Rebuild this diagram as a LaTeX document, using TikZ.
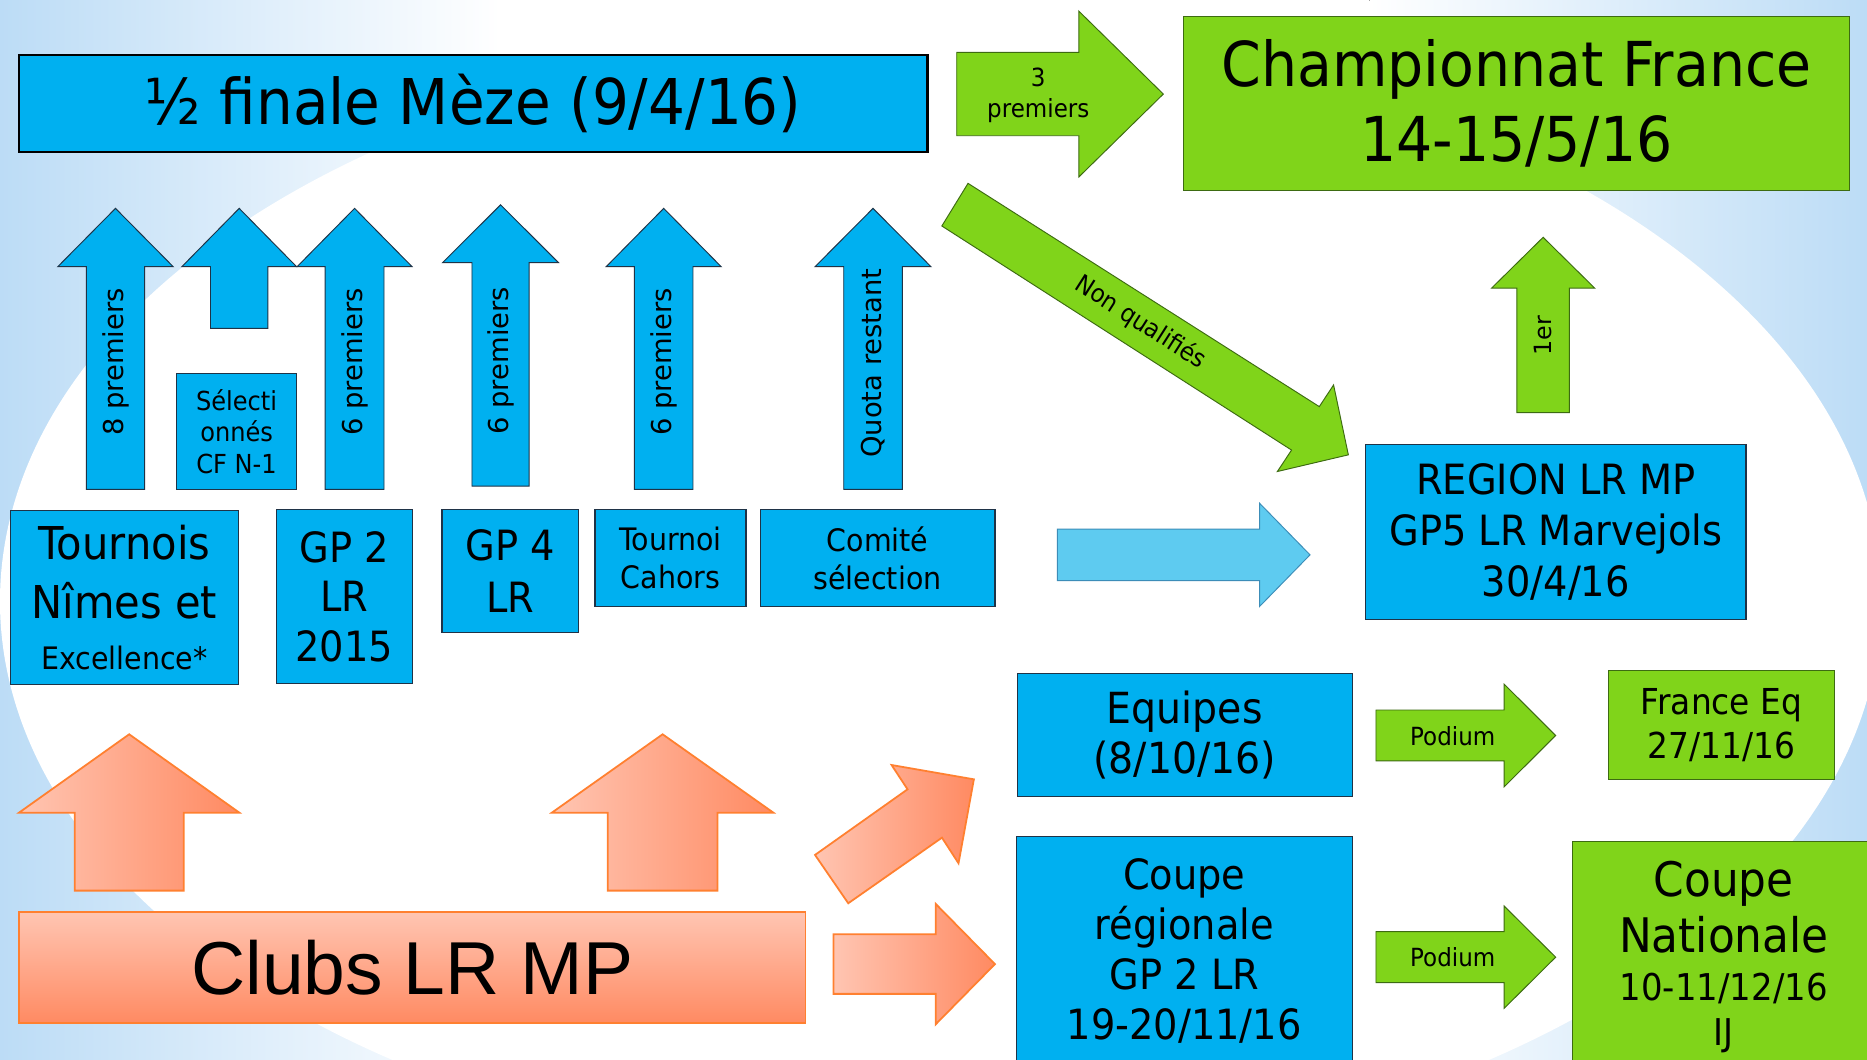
\documentclass[tikz,border=0pt]{standalone}
\usepackage{fontspec}
\setmainfont{DejaVu Sans}
\newfontfamily\fcond{DejaVu Sans}[FakeStretch=0.92]
\newfontfamily\fdv{DejaVu Sans}
\newfontfamily\farial{Liberation Sans}
\definecolor{cblue}{HTML}{00B0F0}
\definecolor{cgreen}{HTML}{80D41A}
\definecolor{clight}{HTML}{5ECBF0}
\definecolor{bgblue}{HTML}{BCDCF6}
\definecolor{orl}{HTML}{FFC5B2}
\definecolor{ord}{HTML}{FF8A62}
\definecolor{orb}{HTML}{FF8030}
\definecolor{bdark}{HTML}{1F3347}
\definecolor{gdark}{HTML}{3D6B12}
\definecolor{lbord}{HTML}{3C8DB8}
\newcommand\blockup[7][]{%
  \draw[#1] (#2,#3) -- ({#2+#4},#6) -- ({#2+#5},#6) -- ({#2+#5},#7) -- ({#2-#5},#7) -- ({#2-#5},#6) -- ({#2-#4},#6) -- cycle;}
\newcommand\blockright[7][]{%
  \draw[#1] (#4,{#3-#6}) -- (#5,{#3-#6}) -- (#5,{#3-#7}) -- (#2,#3) -- (#5,{#3+#7}) -- (#5,{#3+#6}) -- (#4,{#3+#6}) -- cycle;}
\begin{document}
\begin{tikzpicture}[x=1pt,y=-1pt,
  bx/.style={inner sep=0pt, align=center, text=black},
  bluebox/.style={bx, fill=cblue, draw=bdark, line width=1pt},
  greenbox/.style={bx, fill=cgreen, draw=gdark, line width=0.9pt},
  blueshape/.style={fill=cblue, draw=bdark, line width=0.8pt},
  greenshape/.style={fill=cgreen, draw=gdark, line width=0.8pt},
  lightshape/.style={fill=clight, draw=lbord, line width=0.8pt},
  orangeshape/.style={left color=orl, right color=ord, draw=orb, line width=1.5pt},
  vlab/.style={rotate=90, inner sep=0pt, font=\fdv\fontsize{23}{23}\selectfont},
  albl/.style={inner sep=0pt, align=center, font=\fcond\fontsize{21}{26}\selectfont}
]
% background
\useasboundingbox (0,0) rectangle (1568,890);
\fill[white] (0,0) rectangle (1568,890);
\fill[left color=bgblue, right color=white] (0,0) rectangle (420,890);
\fill[left color=white, right color=bgblue] (1150,0) rectangle (1568,890);
\fill[white] (790,505) ellipse [x radius=790, y radius=474];

% top row
\node[bluebox, draw=black, line width=1.8pt, minimum width=763pt, minimum height=82pt,
  font=\fcond\fontsize{53}{60}\selectfont] (semi) at (397.5,87) {½ finale Mèze (9/4/16)};
\blockright[greenshape]{977}{79}{803.5}{906}{35}{69.7}
\node[albl] (l3p) at (872,80) {3\\premiers};
\node[greenbox, minimum width=559pt, minimum height=146pt,
  font=\fcond\fontsize{52}{63}\selectfont] (champ) at (1273.5,87) {Championnat France\\14-15/5/16};

% non qualifies arrow
\draw[greenshape] (813,154) -- (1108,341.5) -- (1120,323.3) -- (1132.4,382) -- (1072.8,396) -- (1084.7,378) -- (791,189.8) -- cycle;
\node[inner sep=0pt, rotate=-32.5, font=\fcond\fontsize{21}{21}\selectfont] (lnq) at (958,271) {Non qualifiés};

% up arrows
\blockup[blueshape]{97}{175}{48.5}{24.5}{224}{411}
\blockup[blueshape]{200.9}{175}{48.2}{24.1}{224}{275.8}
\blockup[blueshape]{297.8}{175}{48.3}{24.7}{224}{411}
\blockup[blueshape]{420.4}{172}{48.7}{24}{220.6}{408.2}
\blockup[blueshape]{557.4}{175}{48.3}{24.6}{224}{411}
\blockup[blueshape]{733.2}{175}{48.7}{24.6}{224}{411}
\node[vlab] (l8) at (97,304) {8 premiers};
\node[vlab] (l6a) at (297.8,304) {6 premiers};
\node[vlab] (l6b) at (420.4,303) {6 premiers};
\node[vlab] (l6c) at (557.4,304) {6 premiers};
\node[vlab] (lq) at (733.2,305) {Quota restant};
\node[bluebox, minimum width=100.6pt, minimum height=97.5pt,
  font=\fcond\fontsize{22}{26.5}\selectfont] (sel) at (198.7,362.3) {Sélecti\\onnés\\CF N-1};

% 1er arrow
\blockup[greenshape]{1296}{199.3}{43.3}{22}{242}{346.6}
\node[inner sep=0pt, rotate=90, font=\fdv\fontsize{20}{20}\selectfont] (l1er) at (1296,282) {1er};

% source boxes
\node[bluebox, minimum width=191pt, minimum height=146pt,
  font=\fcond\fontsize{38}{49}\selectfont] (tour) at (104.5,502) {Tournois\\Nîmes et\\[-6pt]{\fontsize{26}{30}\selectfont Excellence*}};
\node[bluebox, minimum width=114.5pt, minimum height=146pt,
  font=\fcond\fontsize{35}{41.5}\selectfont] (gp2) at (289.2,501) {GP 2\\LR\\2015};
\node[bluebox, minimum width=114.6pt, minimum height=103pt,
  font=\fcond\fontsize{35}{43}\selectfont] (gp4) at (428.5,479.5) {GP 4\\LR};
\node[bluebox, minimum width=126.9pt, minimum height=81.5pt,
  font=\fcond\fontsize{26}{32}\selectfont] (cahors) at (563.1,468.7) {Tournoi\\Cahors};
\node[bluebox, minimum width=197.2pt, minimum height=81.5pt,
  font=\fcond\fontsize{26}{32}\selectfont] (comite) at (737,468.7) {Comité\\sélection};

% light blue arrow and region
\blockright[lightshape]{1100.2}{466}{888}{1057.8}{21.7}{43.4}
\node[bluebox, minimum width=319.4pt, minimum height=146.3pt,
  font=\fcond\fontsize{35}{42.5}\selectfont] (region) at (1306.7,446.8) {REGION LR MP\\GP5 LR Marvejols\\30/4/16};

% teams
\node[bluebox, minimum width=280.9pt, minimum height=103.5pt,
  font=\fcond\fontsize{36}{42}\selectfont] (equipes) at (995.1,617.2) {Equipes\\(8/10/16)};
\blockright[greenshape]{1306.5}{617.7}{1155.6}{1263.3}{21.4}{43.1}
\node[albl] (lpod1) at (1220,618) {Podium};
\node[greenbox, minimum width=190.4pt, minimum height=91.7pt,
  font=\fcond\fontsize{30}{37}\selectfont] (franceeq) at (1445.8,609.1) {France Eq\\27/11/16};

% cups
\node[bluebox, minimum width=281.9pt, minimum height=192.3pt,
  font=\fcond\fontsize{35}{42}\selectfont] (coupereg) at (994.6,798.8) {Coupe\\régionale\\GP 2 LR\\19-20/11/16};
\blockright[greenshape]{1306.5}{803.9}{1155.6}{1263.3}{21.4}{42.9}
\node[albl] (lpod2) at (1220,804) {Podium};
\node[greenbox, minimum width=254.5pt, minimum height=194.5pt,
  font=\fcond\fontsize{40}{47}\selectfont] (coupenat) at (1447.7,804) {Coupe\\Nationale\\[-7pt]{\fontsize{31}{36}\selectfont 10-11/12/16}\\[-9pt]{\fontsize{31}{36}\selectfont IJ}};

% clubs (orange)
\blockup[orangeshape]{108.5}{616.7}{92.5}{45.8}{682.5}{748}
\blockup[orangeshape]{556.5}{616.7}{93}{46.1}{682.5}{748}
\draw[orangeshape] (684.5,718) -- (762.2,662.9) -- (748.8,642.5) -- (817.9,654.5) -- (805,725) -- (791.1,703.5) -- (712.4,758.6) -- cycle;
\blockright[orangeshape]{835.6}{809.7}{700}{785.8}{25}{50.6}
\node[bx, top color=orl, bottom color=ord, draw=orb, line width=1.5pt,
  minimum width=660.5pt, minimum height=93.2pt,
  font=\farial\fontsize{63}{63}\selectfont] (clubs) at (346.2,812.8) {Clubs LR MP};
\end{tikzpicture}
\end{document}
